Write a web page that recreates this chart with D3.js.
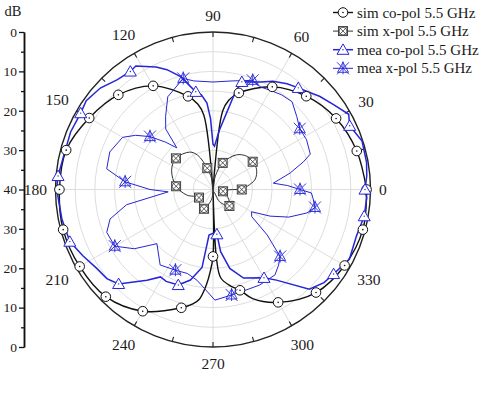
<!DOCTYPE html>
<html>
<head>
<meta charset="utf-8">
<script src="https://cdn.jsdelivr.net/npm/d3@7"></script>
<style>
  body { margin: 0; background: #fff; }
  svg { display: block; }
  text { font-family: "Liberation Serif", "Times New Roman", serif; fill: #1a1a1a; }
</style>
</head>
<body>
<svg id="chart" width="489" height="396"></svg>
<script>
// ---- data (angle in degrees, counter-clockwise from 0 at the right; level in dB) ----
const angleLabels = [0, 30, 60, 90, 120, 150, 180, 210, 240, 270, 300, 330];
const radialMajor = [-40, -30, -20, -10, 0];
const radialMinor = [-35, -25, -15, -5];
const ringLevels = [-35, -30, -25, -20, -15, -10, -5];

const seriesNames = ["sim co-pol 5.5 GHz", "sim x-pol 5.5 GHz", "mea co-pol 5.5 GHz", "mea x-pol 5.5 GHz"];

const simCoAngles = [0, 15, 30, 45, 60, 75, 80, 83, 84, 90, 96, 97, 100, 105, 120, 135, 150, 165, 180, 195, 210, 225, 240, 255, 260, 263, 266, 268, 270, 271, 272, 273, 275, 280, 285, 290, 300, 315, 330, 345, 360];
const simCoDb = [-1.0, -2.2, -3.9, -6.5, -9.9, -14.6, -17, -20, -40, -40, -40, -21, -18, -15.5, -9.6, -6.0, -3.7, -1.4, -1.0, -0.6, -0.9, -1.5, -4.3, -8.9, -10.5, -12, -15.7, -19, -23, -40, -40, -22, -17.5, -15.2, -13.5, -10.5, -6.9, -3.0, -1.4, -0.6, -1.0];

const simXAngles = [0, 13, 25, 35, 45, 56, 70, 80, 90, 98, 105, 114, 122, 140, 155, 175, 192, 210, 228, 245, 262, 280, 298, 315, 332, 350, 360];
const simXDb = [-32.7, -29.1, -27.8, -27.7, -28, -29.4, -32.8, -36.5, -40, -37, -34.4, -30.5, -28.8, -27.7, -28.4, -30.6, -33.2, -35.9, -35, -34.6, -37.5, -39.5, -36.5, -34.1, -35.7, -37.4, -32.7];

const meaCoAngles = [0, 5, 10, 18, 25, 29, 35, 41, 50, 55, 61, 66, 75, 77, 80, 84, 88, 90, 92, 94, 97, 100, 106, 111, 115, 122, 125, 131, 138, 145, 150, 158, 168, 175, 180, 191, 200, 207, 214, 220, 225, 234, 239, 243, 250, 256, 262, 265, 270, 275, 277, 282, 289, 300, 305, 314, 320, 325, 333, 342, 350, 357, 360];
const meaCoDb = [-1.4, -0.8, -0.4, -0.2, -1.7, -0.6, -2.5, -4.0, -6.3, -7.2, -8.6, -10.1, -11.7, -14.4, -20.3, -25, -29, -28.5, -22, -18, -15.8, -14.8, -10.2, -7.4, -5.7, -3.0, -3.4, -3.0, -1.5, -0.7, -1.2, -1.0, -1.1, -0.5, -0.3, -0.9, -1.3, -2.9, -4.3, -4.8, -6.1, -11.5, -14.1, -13.8, -14.2, -16.3, -20, -28.4, -28.9, -28.6, -24.1, -19.5, -16.2, -14.1, -11.9, -4.8, -3.2, -2.6, -1.1, -1.7, -1.0, -0.9, -1.4];

const meaXAngles = [0, 3, 6, 12, 17, 20, 28, 35, 41, 48, 54, 60, 65, 70, 80, 90, 100, 105, 116, 123, 128, 131, 135, 140, 145, 150, 160, 169, 175, 180, 183, 190, 196, 202, 210, 217, 224, 235, 245, 253, 260, 271, 280, 287, 296, 306, 311, 315, 320, 325, 330, 335, 340, 346, 350, 355, 358, 360];
const meaXDb = [-17.9, -21, -24.6, -20, -16, -13.7, -13.1, -13.1, -11.8, -10, -10.3, -10.9, -11.3, -10.5, -12, -12.7, -12, -10.8, -13.8, -17.9, -20.5, -26, -23, -19.1, -16, -13.5, -12.1, -12.5, -17.6, -24, -28.6, -17.7, -12.8, -10.9, -11.2, -15, -20.2, -16.6, -17.4, -17.7, -16.6, -11.9, -12.8, -13.1, -13, -13.2, -14.6, -15.9, -22, -28, -28.7, -24, -19.5, -15.4, -13.7, -14.5, -15, -17.9];

// ---- layout ----
const svg = d3.select("#chart");
const cx = 213, cy = 189.5, R = 157.5;
const axisX = 24;
const black = "#111";
const blue = "#2626d8";

svg.append("rect").attr("width", 489).attr("height", 396).attr("fill", "#fff");

const r = d3.scaleLinear().domain([-40, 0]).range([0, R]).clamp(true);
const toRad = deg => (90 - deg) * Math.PI / 180;   // d3 radial angles run clockwise from 12 o'clock

const plot = svg.append("g").attr("transform", `translate(${cx},${cy})`);

// grid rings
plot.append("g").selectAll("circle").data(ringLevels).join("circle")
  .attr("r", d => r(d)).attr("fill", "none")
  .attr("stroke", "#d4d4d4").attr("stroke-width", 0.8);

// spokes every 30 degrees
plot.append("g").selectAll("line").data(angleLabels).join("line")
  .attr("x1", 0).attr("y1", 0)
  .attr("x2", d => d3.pointRadial(toRad(d), R)[0])
  .attr("y2", d => d3.pointRadial(toRad(d), R)[1])
  .attr("stroke", "#d4d4d4").attr("stroke-width", 0.8);

// outer boundary
plot.append("circle").attr("r", r(0)).attr("fill", "none")
  .attr("stroke", "#222").attr("stroke-width", 1.4);

// inward ticks on the boundary every 15 degrees
const tickAngles = d3.range(0, 360, 15);
plot.append("g").selectAll("line").data(tickAngles).join("line")
  .attr("x1", d => d3.pointRadial(toRad(d), R)[0])
  .attr("y1", d => d3.pointRadial(toRad(d), R)[1])
  .attr("x2", d => d3.pointRadial(toRad(d), R - 5)[0])
  .attr("y2", d => d3.pointRadial(toRad(d), R - 5)[1])
  .attr("stroke", "#222").attr("stroke-width", 1.1);

// angle labels
const angleFont = 15.5;
plot.append("g").selectAll("text").data(angleLabels).join("text")
  .attr("font-size", angleFont)
  .attr("text-anchor", "middle")
  .attr("dominant-baseline", "central")
  .attr("transform", d => {
    const w = String(d).length * angleFont * 0.5;
    const a = d * Math.PI / 180;
    const off = 166 + Math.abs(Math.cos(a)) * w / 2 + Math.abs(Math.sin(a)) * 8;
    const p = d3.pointRadial(toRad(d), off);
    return `translate(${p[0]},${p[1]})`;
  })
  .text(d => d);

// ---- series ----
function zip(angles, values) { return angles.map((a, i) => ({ a, v: values[i] })); }
const simCo = zip(simCoAngles, simCoDb);
const simX = zip(simXAngles, simXDb);
const meaCo = zip(meaCoAngles, meaCoDb);
const meaX = zip(meaXAngles, meaXDb);

const radial = curve => d3.lineRadial().angle(d => toRad(d.a)).radius(d => r(d.v)).curve(curve);

plot.append("path").datum(simCo).attr("d", radial(d3.curveCatmullRom.alpha(0.5)))
  .attr("fill", "none").attr("stroke", black).attr("stroke-width", 1.4);
plot.append("path").datum(simX).attr("d", radial(d3.curveCatmullRom.alpha(0.5)))
  .attr("fill", "none").attr("stroke", "#333").attr("stroke-width", 1);
plot.append("path").datum(meaCo).attr("d", radial(d3.curveLinear))
  .attr("fill", "none").attr("stroke", blue).attr("stroke-width", 1.5);
plot.append("path").datum(meaX).attr("d", radial(d3.curveLinear))
  .attr("fill", "none").attr("stroke", blue).attr("stroke-width", 1);

// ---- marker symbols ----
function drawCircle(g, color) {
  g.append("circle").attr("r", 4.8).attr("fill", "#fff").attr("stroke", color).attr("stroke-width", 1);
  g.append("circle").attr("r", 0.8).attr("fill", color);
}
function drawCrossSquare(g, color) {
  const s = 4.5;
  g.append("rect").attr("x", -s).attr("y", -s).attr("width", 2 * s).attr("height", 2 * s)
    .attr("fill", "#fff").attr("stroke", color).attr("stroke-width", 0.9);
  g.append("circle").attr("r", s - 0.6).attr("fill", "none").attr("stroke", color).attr("stroke-width", 0.8);
  g.append("path").attr("d", `M${-s},${-s}L${s},${s}M${-s},${s}L${s},${-s}`)
    .attr("stroke", color).attr("stroke-width", 0.8);
}
function drawTriangle(g, color) {
  g.append("path").attr("d", "M0,-5.8L6,4.6L-6,4.6Z")
    .attr("fill", "#fff").attr("stroke", color).attr("stroke-width", 1);
  g.append("circle").attr("r", 0.7).attr("fill", color);
}
function drawStar(g, color) {
  g.append("path").attr("d", "M0,-6L5.5,4L-5.5,4Z")
    .attr("fill", "none").attr("stroke", color).attr("stroke-width", 0.9);
  g.append("path").attr("d", "M-6,-6L6,6M-6,6L6,-6M0,-7L0,6")
    .attr("stroke", color).attr("stroke-width", 0.9);
}

function markers(data, step, draw, color) {
  const pts = data.filter(d => d.a % step === 0 && d.a < 360 && d.v > -39);
  plot.append("g").selectAll("g").data(pts).join("g")
    .attr("transform", d => {
      const p = d3.pointRadial(toRad(d.a), r(d.v));
      return `translate(${p[0]},${p[1]})`;
    })
    .each(function () { draw(d3.select(this), color); });
}
markers(simCo, 15, drawCircle, black);
markers(simX, 35, drawCrossSquare, "#333");
markers(meaCo, 25, drawTriangle, blue);
markers(meaX, 35, drawStar, blue);

// ---- radial scale on the left ----
const yUp = d3.scaleLinear().domain([-40, 0]).range([cy, cy - R]);
const yDown = d3.scaleLinear().domain([-40, 0]).range([cy, cy + R]);
const fmt = d => Math.abs(d);

function radialAxis(scale, majors) {
  const gMinor = svg.append("g").attr("transform", `translate(${axisX},0)`);
  gMinor.call(d3.axisLeft(scale).tickValues(radialMinor).tickFormat("").tickSize(3).tickSizeOuter(0));
  const g = svg.append("g").attr("transform", `translate(${axisX},0)`);
  g.call(d3.axisLeft(scale).tickValues(majors).tickFormat(fmt).tickSize(5).tickSizeOuter(0).tickPadding(2));
  [g, gMinor].forEach(s => {
    s.selectAll("path.domain").attr("stroke", "#111").attr("stroke-width", 1.5);
    s.selectAll("line").attr("stroke", "#111").attr("stroke-width", 1.3);
  });
  g.selectAll("text").attr("font-size", 13.5).attr("font-family", '"Liberation Serif", serif').attr("fill", "#1a1a1a");
}
radialAxis(yUp, radialMajor);
radialAxis(yDown, radialMajor.filter(d => d !== -40));

svg.append("text").attr("x", 13).attr("y", 16).attr("text-anchor", "middle")
  .attr("font-size", 14.5).text("dB");

// ---- legend ----
const legendDraw = [drawCircle, drawCrossSquare, drawTriangle, drawStar];
const legendColor = [black, "#333", blue, blue];
const legendWidth = [1.4, 1, 1.5, 1];
const legend = svg.append("g").attr("transform", "translate(333,12.5)");
seriesNames.forEach((name, i) => {
  const row = legend.append("g").attr("transform", `translate(0,${i * 18.6})`);
  row.append("line").attr("x1", 0).attr("x2", 20).attr("y1", 0).attr("y2", 0)
    .attr("stroke", legendColor[i]).attr("stroke-width", legendWidth[i]);
  const m = row.append("g").attr("transform", "translate(10,0)");
  legendDraw[i](m, legendColor[i]);
  row.append("text").attr("x", 24).attr("y", 0)
    .attr("dominant-baseline", "central")
    .attr("font-size", 15).text(name);
});
</script>
</body>
</html>
